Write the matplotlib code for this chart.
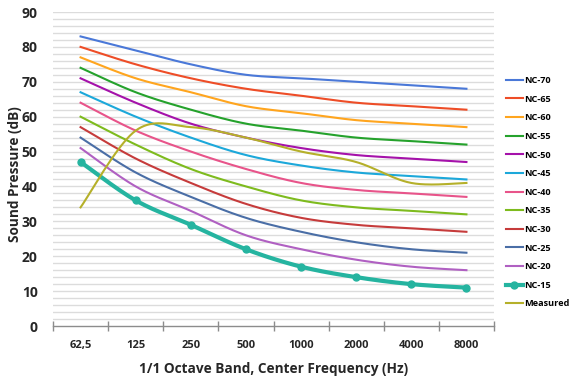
import numpy as np
import matplotlib
matplotlib.use("Agg")
import matplotlib.pyplot as plt
from matplotlib.lines import Line2D

plt.rcParams['font.family'] = ['Open Sans', 'DejaVu Sans']

bands = ["62,5", "125", "250", "500", "1000", "2000", "4000", "8000"]

nc70 = [83, 79, 75, 72, 71, 70, 69, 68]
nc65 = [80, 75, 71, 68, 66, 64, 63, 62]
nc60 = [77, 71, 67, 63, 61, 59, 58, 57]
nc55 = [74, 67, 62, 58, 56, 54, 53, 52]
nc50 = [71, 64, 58, 54, 51, 49, 48, 47]
nc45 = [67, 60, 54, 49, 46, 44, 43, 42]
nc40 = [64, 56, 50, 45, 41, 39, 38, 37]
nc35 = [60, 52, 45, 40, 36, 34, 33, 32]
nc30 = [57, 48, 41, 35, 31, 29, 28, 27]
nc25 = [54, 44, 37, 31, 27, 24, 22, 21]
nc20 = [51, 40, 33, 26, 22, 19, 17, 16]
nc15 = [47, 36, 29, 22, 17, 14, 12, 11]
measured = [34, 56, 57, 54, 50, 47, 41, 41]

series_names = ["NC-70", "NC-65", "NC-60", "NC-55", "NC-50", "NC-45", "NC-40",
                "NC-35", "NC-30", "NC-25", "NC-20", "NC-15", "Measured"]
series_values = [nc70, nc65, nc60, nc55, nc50, nc45, nc40,
                 nc35, nc30, nc25, nc20, nc15, measured]
series_colors = ["#4A78D8", "#EE4D27", "#FFA51E", "#25A22C", "#A512AA", "#1CA8DA",
                 "#E8548A", "#7EBB1E", "#C63B3B", "#4A6EA6", "#B060C2", "#25B4A0",
                 "#B5B02A"]


def smooth(xs, ys, n=40):
    """Smoothed line through points using cubic Bezier segments (Catmull-Rom style)."""
    pts = np.column_stack([xs, ys]).astype(float)
    P = np.vstack([pts[0], pts, pts[-1]])
    out = []
    t = np.linspace(0, 1, n)[:, None]
    for i in range(len(pts) - 1):
        p0, p1, p2, p3 = P[i], P[i + 1], P[i + 2], P[i + 3]
        c1 = p1 + (p2 - p0) / 6
        c2 = p2 - (p3 - p1) / 6
        seg = ((1 - t) ** 3) * p1 + 3 * ((1 - t) ** 2) * t * c1 \
            + 3 * (1 - t) * t ** 2 * c2 + t ** 3 * p2
        out.append(seg if i == 0 else seg[1:])
    return np.vstack(out)


fig = plt.figure(figsize=(5.72, 3.78), dpi=100)
ax = fig.add_axes([53 / 572, 1 - 326 / 378, (494 - 53) / 572, (326 - 12) / 378])

x = np.arange(len(bands))
handles = []
for name, vals, col in zip(series_names, series_values, series_colors):
    curve = smooth(x, vals)
    if name == "NC-15":
        ax.plot(curve[:, 0], curve[:, 1], color=col, lw=3.0, solid_capstyle='round', zorder=3)
        ax.plot(x, vals, 'o', color=col, ms=5, zorder=4)
        handles.append(Line2D([], [], color=col, lw=3.0, marker='o', ms=5))
    else:
        ax.plot(curve[:, 0], curve[:, 1], color=col, lw=1.5, zorder=3)
        handles.append(Line2D([], [], color=col, lw=1.5))

ax.set_xlim(-0.5, len(bands) - 0.5)
ax.set_ylim(0, 90)

# horizontal grid every 2 dB
for yv in np.arange(2, 91, 2):
    ax.axhline(yv, color="#DCDCDC", lw=1.0, zorder=1)

for s in ["top", "right", "left"]:
    ax.spines[s].set_visible(False)
ax.spines["bottom"].set_color("#8C8C8C")
ax.spines["bottom"].set_linewidth(1.0)

ax.set_yticks(np.arange(0, 91, 10))
ax.tick_params(axis='y', length=0, pad=11, labelsize=10)
for lab in ax.get_yticklabels():
    lab.set_fontweight('bold')
    lab.set_color("#262626")

ax.set_xticks(np.arange(-0.5, len(bands), 1.0))
ax.set_xticklabels([])
ax.tick_params(axis='x', which='major', direction='inout', length=7, color="#8C8C8C", width=1.0)
ax.set_xticks(x, minor=True)
ax.set_xticklabels(bands, minor=True)
ax.tick_params(axis='x', which='minor', length=0, pad=10, labelsize=8)
for lab in ax.get_xticklabels(minor=True):
    lab.set_fontweight('bold')
    lab.set_color("#262626")

ax.set_ylabel("Sound Pressure (dB)", fontsize=9.8, fontweight='bold', color="#262626")
ax.yaxis.set_label_coords((22 - 53) / 441, (326 - 174) / 314)
ax.set_xlabel("1/1 Octave Band, Center Frequency (Hz)", fontsize=9.8, fontweight='bold',
              color="#262626")
ax.xaxis.set_label_coords(0.5, -(362 - 326) / 314)

fig.legend(handles, series_names, loc='upper left', bbox_to_anchor=(506 / 572, 1 - 76 / 378),
           frameon=False, handlelength=1.85, handletextpad=0.15, labelspacing=1.05,
           prop={'size': 6.6, 'weight': 'bold'}, borderaxespad=0, borderpad=0)

fig.savefig("out.png", dpi=100)
